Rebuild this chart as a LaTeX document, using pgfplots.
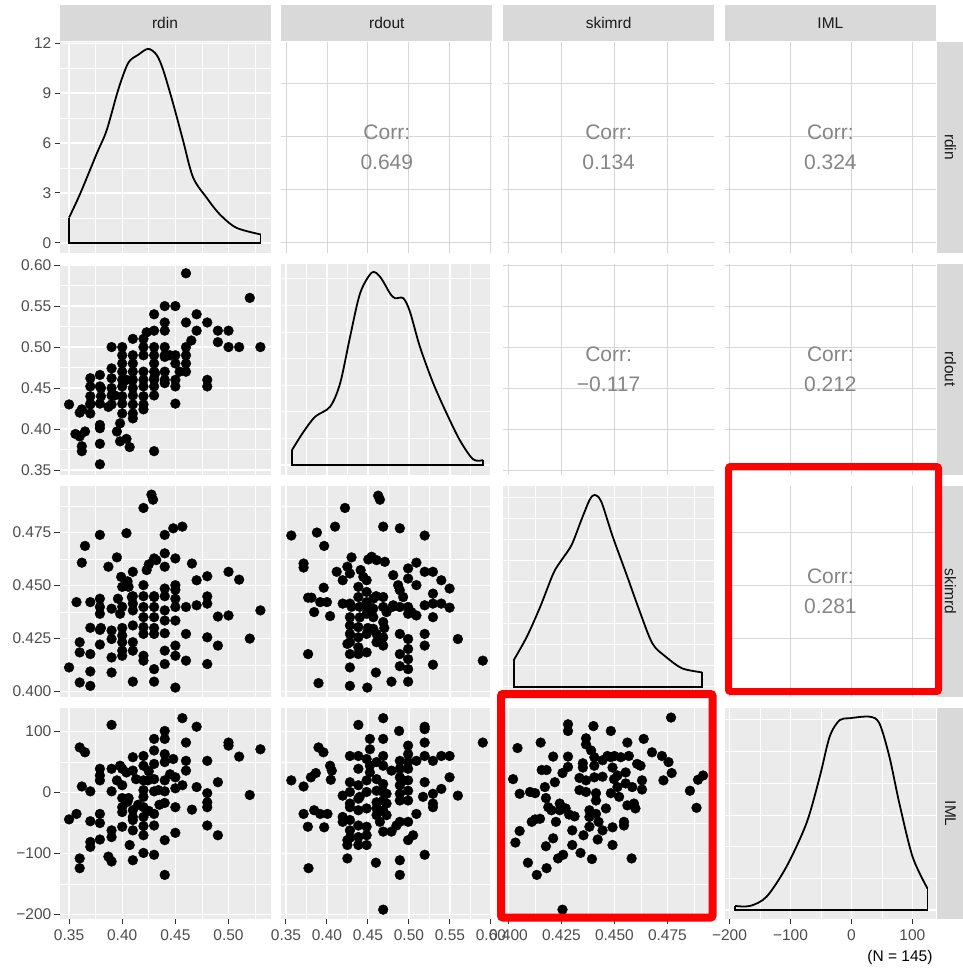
\documentclass[border=0pt]{standalone}
\usepackage{fontspec}
\setmainfont{Liberation Sans}
\usepackage{pgfplots}
\pgfplotsset{compat=1.18}
\definecolor{ggbg}{HTML}{EBEBEB}
\definecolor{stripbg}{HTML}{D9D9D9}
\definecolor{tickgray}{HTML}{4D4D4D}
\definecolor{tickdark}{HTML}{333333}
\definecolor{striptext}{HTML}{1A1A1A}
\definecolor{upgrid}{HTML}{D6D6D6}
\definecolor{corrgray}{HTML}{858585}
\newcommand\tickfont{\fontsize{15.5}{18}\selectfont}
\pgfplotsset{
  base/.style={scale only axis, width=211pt, height=211pt, anchor=north west,
    axis line style={draw=none}, xticklabels={}, yticklabels={},
    xtick style={draw=none}, ytick style={draw=none},
    scaled x ticks=false, scaled y ticks=false,
    tick align=outside, major tick length=5pt, minor tick length=0pt,
    tick label style={font=\tickfont, text=tickgray},
    xticklabel style={inner sep=0pt, yshift=-5pt},
    yticklabel style={inner sep=0pt, xshift=-3pt},
    tick pos=left},
  low/.style={base, grid=both, axis background/.style={fill=ggbg},
    major grid style={white, line width=1.3pt}, minor grid style={white, line width=0.65pt}},
  up/.style={base, grid=major, major grid style={upgrid, line width=0.9pt}},
  xlab/.style={xtick style={draw=tickdark, line width=1pt}},
  ylab/.style={ytick style={draw=tickdark, line width=1pt}},
  Xrdin/.style={xmin=0.341, xmax=0.5395, xtick={0.35,0.40,0.45,0.50}, minor xtick={0.375,0.425,0.475,0.525}},
  Yrdin/.style={ymin=0.341, ymax=0.5395, ytick={0.35,0.40,0.45,0.50}, minor ytick={0.375,0.425,0.475,0.525}},
  Xrdout/.style={xmin=0.3443, xmax=0.6017, xtick={0.35,0.40,0.45,0.50,0.55,0.60}, minor xtick={0.375,0.425,0.475,0.525,0.575}},
  Yrdout/.style={ymin=0.3443, ymax=0.6017, ytick={0.35,0.40,0.45,0.50,0.55,0.60}, minor ytick={0.375,0.425,0.475,0.525,0.575}},
  Xskim/.style={xmin=0.3975, xmax=0.497, xtick={0.400,0.425,0.450,0.475}, minor xtick={0.4125,0.4375,0.4625,0.4875}},
  Yskim/.style={ymin=0.3975, ymax=0.497, ytick={0.400,0.425,0.450,0.475}, minor ytick={0.4125,0.4375,0.4625,0.4875}},
  Ximl/.style={xmin=-207.5, xmax=138.5, xtick={-200,-100,0,100}, minor xtick={-150,-50,50}},
  Yiml/.style={ymin=-207.5, ymax=138.5, ytick={-200,-100,0,100}, minor ytick={-150,-50,50}},
  Yd1/.style={ymin=-0.58, ymax=12.1, ytick={0,3,6,9,12}, minor ytick={1.5,4.5,7.5,10.5}},
  Yd2/.style={ymin=-0.455, ymax=9.45, ytick={0,2.5,5,7.5}, minor ytick={1.25,3.75,6.25,8.75}},
  Yd3/.style={ymin=-1.2, ymax=23.9, ytick={0,5,10,15,20}, minor ytick={2.5,7.5,12.5,17.5,22.5}},
  Yd4/.style={ymin=-0.00029, ymax=0.00637, ytick={0,0.002,0.004,0.006}, minor ytick={0.001,0.003,0.005}},
  pts/.style={only marks, mark=*, mark size=4.9pt, draw=black, fill=black},
  dens/.style={black, line width=1.8pt, no marks},
}
\tikzset{corr/.style={align=center, text=corrgray, font=\fontsize{21}{30}\selectfont}}
\begin{document}
\begin{tikzpicture}
\path[use as bounding box] (0,0) rectangle (963pt,-970pt);
\fill[white] (0,0) rectangle (963pt,-970pt);

% ---------- row 1 ----------
\begin{axis}[low, Xrdin, Yd1, ylab, yticklabels={0,3,6,9,12}, at={(59.5pt,-41.5pt)}]
\addplot[dens, smooth] coordinates {(0.35,1.52) (0.3603,2.93) (0.376,5.36) (0.3854,6.77) (0.3962,9.19) (0.4056,10.81) (0.415,11.3) (0.4244,11.66) (0.4323,11.3) (0.4385,10.4) (0.4478,8.39) (0.4572,6.16) (0.4666,3.94) (0.4792,2.73) (0.4917,1.72) (0.5073,0.91) (0.530,0.51)};
\addplot[dens] coordinates {(0.530,0.51) (0.530,0) (0.35,0) (0.35,1.52)};
\end{axis}
\begin{axis}[up, Xrdout, Yrdin, at={(281.3pt,-41.5pt)}]
\node[corr] at (rel axis cs:0.5,0.5) {Corr:\\0.649};
\end{axis}
\begin{axis}[up, Xskim, Yrdin, at={(503.1pt,-41.5pt)}]
\node[corr] at (rel axis cs:0.5,0.5) {Corr:\\0.134};
\end{axis}
\begin{axis}[up, Ximl, Yrdin, at={(724.9pt,-41.5pt)}]
\node[corr] at (rel axis cs:0.5,0.5) {Corr:\\0.324};
\end{axis}

% ---------- row 2 ----------
\begin{axis}[low, Xrdin, Yrdout, ylab, yticklabels={0.35,0.40,0.45,0.50,0.55,0.60}, at={(59.5pt,-263.7pt)}]
\addplot[pts] coordinates {(0.350,0.430) (0.356,0.394) (0.360,0.391) (0.362,0.379) (0.362,0.373) (0.365,0.397) (0.362,0.424) (0.370,0.431) (0.370,0.419) (0.370,0.462) (0.370,0.452) (0.379,0.466) (0.379,0.452) (0.379,0.431) (0.379,0.405) (0.379,0.401) (0.379,0.382) (0.379,0.357) (0.387,0.427) (0.390,0.500) (0.390,0.474) (0.390,0.462) (0.390,0.441) (0.393,0.441) (0.395,0.397) (0.398,0.407) (0.398,0.385) (0.404,0.388) (0.407,0.378) (0.400,0.500) (0.400,0.490) (0.400,0.480) (0.400,0.452) (0.400,0.440) (0.400,0.431) (0.400,0.419) (0.404,0.460) (0.410,0.510) (0.410,0.490) (0.410,0.480) (0.410,0.470) (0.410,0.460) (0.410,0.441) (0.410,0.430) (0.410,0.419) (0.410,0.413) (0.420,0.510) (0.420,0.490) (0.420,0.470) (0.420,0.452) (0.420,0.440) (0.420,0.430) (0.420,0.424) (0.423,0.518) (0.430,0.520) (0.430,0.540) (0.430,0.500) (0.430,0.470) (0.430,0.462) (0.430,0.452) (0.430,0.441) (0.431,0.468) (0.430,0.373) (0.440,0.550) (0.440,0.530) (0.440,0.520) (0.440,0.500) (0.440,0.488) (0.440,0.460) (0.440,0.456) (0.445,0.490) (0.450,0.550) (0.450,0.490) (0.450,0.460) (0.450,0.452) (0.450,0.431) (0.454,0.470) (0.460,0.530) (0.460,0.490) (0.460,0.480) (0.460,0.590) (0.465,0.508) (0.470,0.540) (0.470,0.520) (0.480,0.530) (0.480,0.460) (0.480,0.452) (0.490,0.520) (0.490,0.506) (0.500,0.520) (0.500,0.500) (0.510,0.500) (0.520,0.560) (0.530,0.500) (0.420,0.500) (0.430,0.490) (0.440,0.490) (0.450,0.480) (0.460,0.470) (0.460,0.500) (0.440,0.470) (0.430,0.480) (0.390,0.450) (0.380,0.440) (0.390,0.430) (0.400,0.460) (0.410,0.450) (0.420,0.460) (0.400,0.470) (0.430,0.460) (0.380,0.450) (0.370,0.440) (0.360,0.420) (0.370,0.430)};
\end{axis}
\begin{axis}[low, Xrdout, Yd2, at={(281.3pt,-263.7pt)}]
\addplot[dens, smooth] coordinates {(0.3573,0.70) (0.3714,1.56) (0.3856,2.27) (0.4039,2.74) (0.4161,3.84) (0.4282,6.02) (0.4404,8.06) (0.4546,9.03) (0.4647,8.84) (0.4769,8.06) (0.483,7.83) (0.4931,7.83) (0.5012,7.20) (0.5134,5.55) (0.5296,3.84) (0.5459,2.43) (0.562,1.17) (0.5782,0.27) (0.5904,0.23)};
\addplot[dens] coordinates {(0.5904,0.23) (0.5904,0) (0.3573,0) (0.3573,0.70)};
\end{axis}
\begin{axis}[up, Xskim, Yrdout, at={(503.1pt,-263.7pt)}]
\node[corr] at (rel axis cs:0.5,0.5) {Corr:\\−0.117};
\end{axis}
\begin{axis}[up, Ximl, Yrdout, at={(724.9pt,-263.7pt)}]
\node[corr] at (rel axis cs:0.5,0.5) {Corr:\\0.212};
\end{axis}

% ---------- row 3 ----------
\begin{axis}[low, Xrdin, Yskim, ylab, yticklabels={0.400,0.425,0.450,0.475}, at={(59.5pt,-485.9pt)}]
\addplot[pts] coordinates {(0.350,0.4114) (0.357,0.4422) (0.360,0.4043) (0.360,0.4185) (0.360,0.4233) (0.362,0.4608) (0.365,0.4687) (0.370,0.4027) (0.370,0.4095) (0.370,0.4177) (0.370,0.4301) (0.370,0.4422) (0.379,0.4739) (0.379,0.4438) (0.379,0.4399) (0.379,0.4367) (0.379,0.4291) (0.379,0.4222) (0.387,0.4589) (0.390,0.4391) (0.390,0.4288) (0.390,0.4248) (0.390,0.4161) (0.390,0.4090) (0.395,0.4633) (0.396,0.4438) (0.398,0.4367) (0.399,0.4541) (0.400,0.4494) (0.400,0.4264) (0.400,0.4233) (0.400,0.4193) (0.400,0.4169) (0.404,0.4747) (0.406,0.4494) (0.409,0.4446) (0.410,0.4565) (0.410,0.4415) (0.410,0.4383) (0.410,0.4312) (0.410,0.4233) (0.410,0.4193) (0.410,0.4047) (0.420,0.4502) (0.420,0.4399) (0.420,0.4351) (0.420,0.4304) (0.420,0.4272) (0.420,0.4169) (0.420,0.4146) (0.420,0.4866) (0.423,0.4573) (0.4275,0.4929) (0.429,0.4905) (0.430,0.4628) (0.430,0.4446) (0.430,0.4399) (0.430,0.4351) (0.430,0.4272) (0.430,0.4106) (0.430,0.4047) (0.432,0.4620) (0.440,0.4739) (0.440,0.4652) (0.440,0.4589) (0.440,0.4486) (0.440,0.4383) (0.440,0.4335) (0.440,0.4275) (0.440,0.4193) (0.440,0.4130) (0.448,0.4770) (0.450,0.4628) (0.450,0.4502) (0.450,0.4438) (0.450,0.4399) (0.450,0.4335) (0.450,0.4217) (0.450,0.4169) (0.450,0.4019) (0.4566,0.4778) (0.460,0.4399) (0.460,0.4272) (0.460,0.4146) (0.4656,0.4604) (0.470,0.4525) (0.470,0.4407) (0.480,0.4544) (0.480,0.4449) (0.480,0.4415) (0.480,0.4256) (0.480,0.4130) (0.490,0.4354) (0.490,0.4217) (0.500,0.4565) (0.500,0.4359) (0.510,0.4528) (0.520,0.4250) (0.530,0.4383) (0.400,0.4400) (0.410,0.4450) (0.430,0.4450) (0.420,0.4450) (0.440,0.4450) (0.450,0.4480) (0.380,0.4300) (0.400,0.4300) (0.430,0.4300) (0.405,0.4520) (0.425,0.4600)};
\end{axis}
\begin{axis}[low, Xrdout, Yskim, at={(281.3pt,-485.9pt)}]
\addplot[pts] coordinates {(0.3565,0.4736) (0.3715,0.4604) (0.3715,0.4585) (0.377,0.4443) (0.381,0.4443) (0.377,0.4177) (0.3844,0.4375) (0.3877,0.4750) (0.3897,0.4040) (0.3917,0.4422) (0.400,0.4422) (0.396,0.4490) (0.3966,0.4687) (0.4038,0.4356) (0.4099,0.4778) (0.4119,0.4565) (0.4192,0.4525) (0.4192,0.4415) (0.422,0.4866) (0.4249,0.4589) (0.428,0.4557) (0.428,0.4415) (0.428,0.4351) (0.428,0.4312) (0.428,0.4272) (0.428,0.4233) (0.428,0.4177) (0.428,0.4114) (0.428,0.4027) (0.4249,0.4225) (0.430,0.4633) (0.4383,0.4494) (0.4383,0.4446) (0.4383,0.4304) (0.4383,0.4256) (0.4383,0.4209) (0.4383,0.4177) (0.4411,0.4573) (0.4443,0.4541) (0.4484,0.4525) (0.4484,0.4470) (0.4484,0.4422) (0.4484,0.4367) (0.4484,0.4272) (0.4484,0.4185) (0.4504,0.4623) (0.4492,0.4019) (0.4545,0.4636) (0.4605,0.4620) (0.4565,0.4438) (0.4565,0.4391) (0.4565,0.4351) (0.4565,0.4296) (0.4597,0.4090) (0.4605,0.4272) (0.4605,0.4233) (0.4625,0.4924) (0.4646,0.4905) (0.4686,0.4778) (0.4686,0.4446) (0.4686,0.4399) (0.4686,0.4328) (0.4686,0.4256) (0.4686,0.4217) (0.4706,0.4612) (0.4727,0.4375) (0.4787,0.4047) (0.4808,0.4549) (0.4808,0.4407) (0.4868,0.4502) (0.4889,0.4478) (0.4889,0.4770) (0.4889,0.4399) (0.4889,0.4272) (0.4889,0.4177) (0.4889,0.4120) (0.4929,0.4446) (0.499,0.4581) (0.499,0.4533) (0.499,0.4399) (0.499,0.4367) (0.499,0.4248) (0.499,0.4201) (0.499,0.4153) (0.499,0.4106) (0.499,0.4047) (0.503,0.4375) (0.5091,0.4608) (0.5091,0.4502) (0.5091,0.4359) (0.5192,0.4736) (0.5192,0.4565) (0.5192,0.4407) (0.5192,0.4272) (0.5192,0.4217) (0.5293,0.4565) (0.5293,0.4462) (0.5293,0.4415) (0.5293,0.4351) (0.5293,0.4127) (0.5395,0.4525) (0.5395,0.4415) (0.5496,0.4486) (0.5496,0.4396) (0.5597,0.4248) (0.5901,0.4146) (0.430,0.4400) (0.440,0.4400) (0.450,0.4400) (0.460,0.4450) (0.470,0.4300) (0.480,0.4400) (0.440,0.4350) (0.450,0.4300)};
\end{axis}
\begin{axis}[low, Xskim, Yd3, at={(503.1pt,-485.9pt)}]
\addplot[dens, smooth] coordinates {(0.4025,3.17) (0.4087,5.96) (0.415,9.52) (0.4212,13.5) (0.4251,15.09) (0.4298,16.87) (0.4344,19.85) (0.4383,22.23) (0.4407,22.83) (0.4438,22.02) (0.4492,17.86) (0.4555,13.5) (0.4617,9.13) (0.4679,5.16) (0.4742,3.58) (0.4819,2.2) (0.4913,1.72)};
\addplot[dens] coordinates {(0.4913,1.72) (0.4913,0) (0.4025,0) (0.4025,3.17)};
\end{axis}
\begin{axis}[up, Ximl, Yskim, at={(724.9pt,-485.9pt)}]
\node[corr] at (rel axis cs:0.5,0.5) {Corr:\\0.281};
\end{axis}

% ---------- row 4 ----------
\begin{axis}[low, Xrdin, Yiml, ylab, xlab, yticklabels={−200,−100,0,100}, xticklabels={0.35,0.40,0.45,0.50}, at={(59.5pt,-708.1pt)}]
\addplot[pts] coordinates {(0.350,-44) (0.357,-35) (0.360,74) (0.365,66) (0.362,10) (0.360,-108) (0.360,-124) (0.370,2) (0.370,-47) (0.370,-81) (0.370,-89) (0.379,39) (0.379,28) (0.379,20) (0.379,-35) (0.379,-50) (0.379,-77) (0.387,-105) (0.390,111) (0.390,39) (0.390,2) (0.390,-62) (0.390,-73) (0.390,-113) (0.395,20) (0.398,44) (0.400,39) (0.400,12) (0.400,-9) (0.400,-24) (0.400,-32) (0.400,-56) (0.404,33) (0.406,-9) (0.407,-86) (0.410,58) (0.410,36) (0.410,-29) (0.410,-40) (0.410,-62) (0.410,-111) (0.413,22) (0.420,60) (0.420,44) (0.420,20) (0.420,4) (0.420,-7) (0.420,-24) (0.420,-40) (0.420,-70) (0.420,-99) (0.424,20) (0.430,88) (0.430,69) (0.430,47) (0.430,22) (0.430,2) (0.430,-35) (0.430,-54) (0.430,-102) (0.434,4) (0.440,101) (0.440,88) (0.440,63) (0.440,50) (0.440,20) (0.440,2) (0.440,-17) (0.440,-78) (0.440,-135) (0.448,55) (0.450,25) (0.450,7) (0.450,-24) (0.450,-66) (0.4566,122) (0.4566,12) (0.460,82) (0.460,52) (0.460,36) (0.4656,-28) (0.470,108) (0.470,9) (0.480,52) (0.480,-1) (0.480,-16) (0.480,-24) (0.480,-54) (0.490,17) (0.490,-70) (0.500,82) (0.500,77) (0.510,59) (0.520,-4) (0.530,71) (0.410,-45) (0.420,-55) (0.425,-30) (0.415,-20) (0.405,-15) (0.435,-20) (0.445,30) (0.425,35)};
\end{axis}
\begin{axis}[low, Xrdout, Yiml, xlab, xticklabels={0.35,0.40,0.45,0.50,0.55,0.60}, at={(281.3pt,-708.1pt)}]
\addplot[pts] coordinates {(0.3565,20) (0.3715,10) (0.3715,-35) (0.3767,-56) (0.3775,-124) (0.3804,25) (0.3864,32) (0.3844,-29) (0.3897,74) (0.3957,66) (0.3917,-35) (0.4006,-35) (0.3966,-57) (0.4038,44) (0.4059,36) (0.4047,21) (0.4192,-5) (0.4192,-40) (0.4192,-48) (0.4249,-78) (0.4249,-86) (0.4249,-108) (0.428,60) (0.428,17) (0.428,1) (0.428,-18) (0.428,-24) (0.428,-45) (0.428,-62) (0.428,-74) (0.4383,111) (0.4383,60) (0.4383,39) (0.4383,12) (0.4383,-10) (0.4383,-29) (0.4383,-54) (0.4383,-73) (0.4383,-86) (0.440,-7) (0.4484,55) (0.4484,20) (0.4484,1) (0.4484,-26) (0.4484,-56) (0.4484,-70) (0.4484,-86) (0.4524,88) (0.4524,71) (0.4524,44) (0.4524,33) (0.4597,-115) (0.4605,50) (0.4605,22) (0.4605,3) (0.4605,-16) (0.4605,-26) (0.4605,-37) (0.4686,122) (0.4686,88) (0.4686,60) (0.4686,44) (0.4686,14) (0.4686,1) (0.4686,-13) (0.4686,-29) (0.4686,-64) (0.4686,-192) (0.4646,-48) (0.4727,-2) (0.4727,-18) (0.4727,-37) (0.4787,36) (0.4787,-64) (0.4848,-54) (0.488,101) (0.4889,52) (0.4889,39) (0.4889,25) (0.4889,12) (0.4889,-2) (0.4889,-13) (0.4889,-48) (0.4889,-111) (0.4889,-135) (0.4929,20) (0.499,77) (0.499,63) (0.499,50) (0.499,39) (0.499,20) (0.499,3) (0.499,-13) (0.499,-48) (0.499,-78) (0.5051,-70) (0.5091,52) (0.5091,-35) (0.5192,108) (0.5192,104) (0.5192,82) (0.5192,60) (0.5192,17) (0.5192,-102) (0.5172,-7) (0.5293,52) (0.5293,-2) (0.5293,-18) (0.5293,-24) (0.5395,60) (0.5395,6) (0.5496,60) (0.5496,25) (0.5597,-5) (0.5901,82)};
\end{axis}
\begin{axis}[low, Xskim, Yiml, xlab, xticklabels={0.400,0.425,0.450,0.475}, at={(503.1pt,-708.1pt)}]
\addplot[pts] coordinates {(0.4022,22) (0.4033,-82) (0.4043,73) (0.4053,-2) (0.4053,-63) (0.4092,-115) (0.4102,1) (0.4126,-1) (0.4110,-48) (0.4126,-44) (0.4149,-43) (0.4134,-135) (0.4152,82) (0.4157,37) (0.418,37) (0.4172,9) (0.4177,-9) (0.4177,-88) (0.418,-124) (0.4188,-24) (0.4203,-29) (0.4211,-75) (0.4224,-48) (0.4211,59) (0.4219,17) (0.4234,-108) (0.4258,-102) (0.4242,-18) (0.4242,-29) (0.4255,-192) (0.4255,32) (0.4281,112) (0.4281,101) (0.4281,59) (0.4281,42) (0.427,-26) (0.4286,-36) (0.4301,-62) (0.4301,-86) (0.4312,-39) (0.4335,4) (0.4335,24) (0.434,-99) (0.4351,48) (0.4351,41) (0.4354,-70) (0.4366,89) (0.4366,79) (0.4366,20) (0.4366,1) (0.4382,-29) (0.4382,-56) (0.4382,-40) (0.4390,69) (0.4394,-109) (0.4401,109) (0.4405,58) (0.4405,44) (0.4405,25) (0.4413,-1) (0.4413,-13) (0.4413,-35) (0.4421,-77) (0.4425,-48) (0.4444,53) (0.4444,26) (0.4444,-62) (0.4467,60) (0.446,-26) (0.4483,101) (0.4483,58) (0.4491,41) (0.4498,22) (0.4483,-1) (0.4491,-57) (0.4491,-86) (0.45,60) (0.453,58) (0.4514,28) (0.4514,9) (0.4522,-7) (0.4545,-48) (0.4545,-54) (0.4553,15) (0.4553,33) (0.4561,82) (0.4561,-21) (0.4568,60) (0.4581,-108) (0.4584,9) (0.4592,-18) (0.4599,-26) (0.4607,47) (0.4623,44) (0.4630,20) (0.4630,5) (0.4638,88) (0.4677,66) (0.4724,60) (0.4731,20) (0.4755,50) (0.477,32) (0.4767,123) (0.4856,3) (0.4887,-25) (0.4894,21) (0.4918,28)};
\end{axis}
\begin{axis}[low, Ximl, Yd4, xlab, xticklabels={−200,−100,0,100}, at={(724.9pt,-708.1pt)}]
\addplot[dens, smooth] coordinates {(-190.7,0.000126) (-166.2,0.000126) (-139,0.00042) (-106.4,0.00137) (-73.7,0.00274) (-52,0.0042) (-35.7,0.00547) (-19.4,0.00599) (-3.1,0.00605) (29.5,0.0061) (45.8,0.00589) (62.2,0.00484) (78.5,0.00337) (100.2,0.00168) (124.6,0.00068)};
\addplot[dens] coordinates {(124.6,0.00068) (124.6,0) (-190.7,0) (-190.7,0.000126)};
\end{axis}

% ---------- strips ----------
\foreach \x/\lab in {59.5/rdin, 281.3/rdout, 503.1/skimrd, 724.9/IML} {
  \fill[stripbg] ({\x*1pt},-5pt) rectangle ({(\x+211)*1pt},-41pt);
  \node[text=striptext, font=\tickfont] at ({(\x+105.5)*1pt},-23pt) {\lab};
}
\foreach \y/\lab in {41.5/rdin, 263.7/rdout, 485.9/skimrd, 708.1/IML} {
  \fill[stripbg] (937pt,{-\y*1pt}) rectangle (975pt,{-(\y+211)*1pt});
  \node[text=striptext, font=\tickfont, rotate=-90] at (950.5pt,{-(\y+105.5)*1pt}) {\lab};
}
\node[anchor=east, font=\tickfont, text=black] at (936pt,-957pt) {(N = 145)};

% ---------- highlight boxes ----------
\draw[red, line width=7pt, rounded corners=2pt] (728.5pt,-466.5pt) rectangle (938.5pt,-691.5pt);
\draw[red, line width=8pt, rounded corners=2pt] (501pt,-694pt) rectangle (712.5pt,-917.5pt);
\end{tikzpicture}
\end{document}
